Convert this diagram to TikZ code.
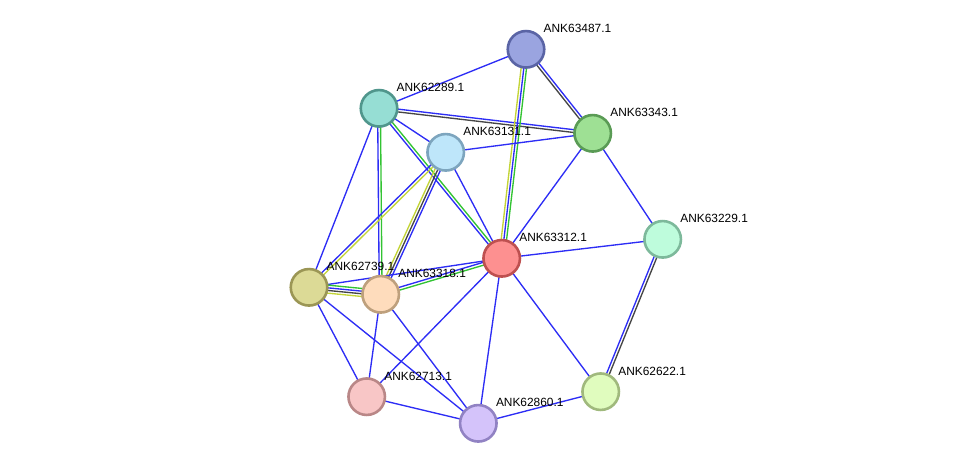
\documentclass[tikz,border=0pt]{standalone}
\usepackage{fontspec}
\setmainfont{Liberation Sans}
\usetikzlibrary{calc,backgrounds}
\definecolor{eblue}{RGB}{45,45,245}
\definecolor{egreen}{RGB}{50,195,50}
\definecolor{eyellow}{RGB}{195,212,55}
\definecolor{egray}{RGB}{70,70,70}
\newcommand\lnk[4]{\draw[edge,#4] ($(#1)!#3!90:(#2)$) -- ($(#2)!#3!-90:(#1)$);}
\newcommand\prot[5]{%
  \definecolor{f#1}{RGB}{#4}\definecolor{b#1}{RGB}{#5}%
  \node[prot,fill=f#1,draw=b#1] (#1) at (#2,#3) {};
  \node[lab] (l#1) at (#2+17.5,#3-16.6) {ANK#1.1};}
\begin{document}
\begin{tikzpicture}[x=1pt,y=-1pt,
  prot/.style={circle,minimum size=36.5pt,inner sep=0pt,line width=2.6pt},
  lab/.style={anchor=base west,inner sep=0pt,font=\fontsize{11.9}{14}\selectfont},
  edge/.style={line width=1.35pt}]
\useasboundingbox (0,0) rectangle (976,469);
\prot{63487}{526}{49.3}{154,164,224}{90,100,165}
\prot{62289}{379}{108.3}{150,222,212}{80,150,140}
\prot{63343}{592.7}{133.3}{158,224,148}{90,155,85}
\prot{63131}{445.7}{152.3}{190,230,250}{125,165,190}
\prot{63229}{662.7}{239.3}{190,252,220}{125,185,155}
\prot{63312}{501.7}{258.3}{253,144,144}{190,80,80}
\prot{62739}{309}{287.3}{220,218,150}{155,150,85}
\prot{63318}{380.7}{294.3}{254,220,188}{190,160,125}
\prot{62713}{366.7}{396.7}{248,198,198}{185,135,135}
\prot{62860}{478.3}{423.3}{212,195,250}{145,130,195}
\prot{62622}{600.7}{391.7}{224,252,190}{160,185,125}
\begin{pgfonlayer}{background}
\lnk{62289}{63487}{0pt}{eblue}
\lnk{62289}{63343}{1.4pt}{eblue}
\lnk{62289}{63343}{-1.4pt}{egray}
\lnk{63487}{63343}{1.4pt}{eblue}
\lnk{63487}{63343}{-1.4pt}{egray}
\lnk{63487}{63312}{-2.7pt}{eyellow}
\lnk{63487}{63312}{0pt}{eblue}
\lnk{63487}{63312}{2.7pt}{egreen}
\lnk{62289}{63131}{0pt}{eblue}
\lnk{63131}{63343}{0pt}{eblue}
\lnk{62289}{63312}{1.4pt}{egreen}
\lnk{62289}{63312}{-1.4pt}{eblue}
\lnk{62289}{63318}{1.4pt}{egreen}
\lnk{62289}{63318}{-1.4pt}{eblue}
\lnk{62289}{62739}{0pt}{eblue}
\lnk{63131}{62739}{1.4pt}{eyellow}
\lnk{63131}{62739}{-1.4pt}{eblue}
\lnk{63131}{63318}{2.7pt}{eblue}
\lnk{63131}{63318}{0pt}{egray}
\lnk{63131}{63318}{-2.7pt}{eyellow}
\lnk{63131}{63312}{0pt}{eblue}
\lnk{63343}{63312}{0pt}{eblue}
\lnk{63343}{63229}{0pt}{eblue}
\lnk{63312}{63229}{0pt}{eblue}
\lnk{63229}{62622}{1.4pt}{egray}
\lnk{63229}{62622}{-1.4pt}{eblue}
\lnk{63312}{62622}{0pt}{eblue}
\lnk{63312}{62860}{0pt}{eblue}
\lnk{63312}{62713}{0pt}{eblue}
\lnk{63318}{63312}{1.4pt}{eblue}
\lnk{63318}{63312}{-1.4pt}{egreen}
\lnk{62739}{63312}{0pt}{eblue}
\lnk{62739}{63318}{4pt}{egreen}
\lnk{62739}{63318}{1.3pt}{eblue}
\lnk{62739}{63318}{-1.3pt}{egray}
\lnk{62739}{63318}{-4pt}{eyellow}
\lnk{62739}{62713}{0pt}{eblue}
\lnk{62739}{62860}{0pt}{eblue}
\lnk{63318}{62713}{0pt}{eblue}
\lnk{63318}{62860}{0pt}{eblue}
\lnk{62713}{62860}{0pt}{eblue}
\lnk{62860}{62622}{0pt}{eblue}
\end{pgfonlayer}
\end{tikzpicture}
\end{document}
